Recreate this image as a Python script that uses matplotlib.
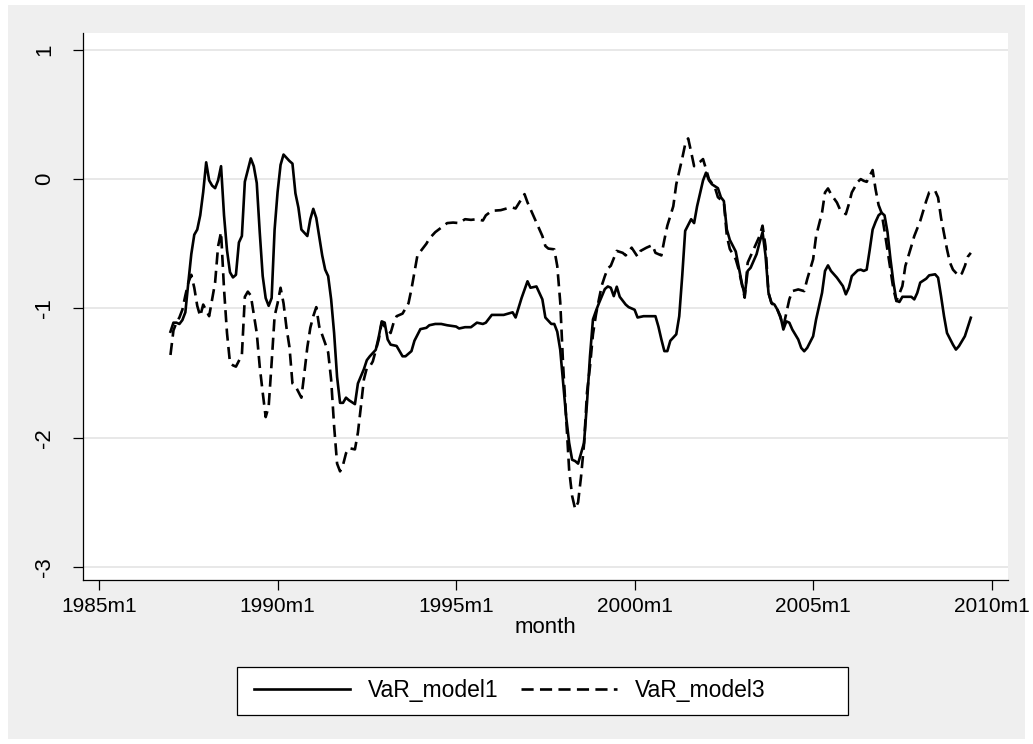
import matplotlib
matplotlib.use("Agg")
import matplotlib.pyplot as plt
from matplotlib.patches import Rectangle

# ---------------- data ----------------
dates_model1 = [
    "1987m1", "1987m2", "1987m3", "1987m4", "1987m5", "1987m6", "1987m7", "1987m8", "1987m9", "1987m10",
    "1987m11", "1987m12", "1988m1", "1988m2", "1988m3", "1988m4", "1988m5", "1988m6", "1988m7", "1988m8",
    "1988m9", "1988m10", "1988m11", "1988m12", "1989m1", "1989m2", "1989m4", "1989m5", "1989m6", "1989m7",
    "1989m8", "1989m9", "1989m10", "1989m11", "1989m12", "1990m1", "1990m2", "1990m3", "1990m5", "1990m6",
    "1990m7", "1990m8", "1990m9", "1990m11", "1990m12", "1991m1", "1991m2", "1991m4", "1991m5", "1991m6",
    "1991m7", "1991m8", "1991m9", "1991m10", "1991m11", "1991m12", "1992m1", "1992m3", "1992m4", "1992m6",
    "1992m7", "1992m8", "1992m10", "1992m11", "1992m12", "1993m1", "1993m2", "1993m3", "1993m5", "1993m6",
    "1993m7", "1993m8", "1993m10", "1993m11", "1994m1", "1994m3", "1994m4", "1994m6", "1994m8", "1994m10",
    "1995m1", "1995m2", "1995m4", "1995m6", "1995m8", "1995m10", "1995m11", "1996m1", "1996m3", "1996m5",
    "1996m8", "1996m9", "1996m11", "1997m1", "1997m2", "1997m4", "1997m6", "1997m7", "1997m9", "1997m10",
    "1997m11", "1997m12", "1998m1", "1998m2", "1998m3", "1998m4", "1998m5", "1998m6", "1998m8", "1998m9",
    "1998m10", "1998m11", "1998m12", "1999m1", "1999m3", "1999m4", "1999m5", "1999m6", "1999m7", "1999m8",
    "1999m10", "1999m11", "2000m1", "2000m2", "2000m4", "2000m6", "2000m8", "2000m9", "2000m10", "2000m11",
    "2000m12", "2001m1", "2001m3", "2001m4", "2001m5", "2001m6", "2001m8", "2001m9", "2001m10", "2001m12",
    "2002m1", "2002m2", "2002m3", "2002m5", "2002m6", "2002m7", "2002m8", "2002m9", "2002m11", "2002m12",
    "2003m1", "2003m2", "2003m3", "2003m4", "2003m5", "2003m6", "2003m7", "2003m8", "2003m9", "2003m10",
    "2003m11", "2003m12", "2004m1", "2004m2", "2004m3", "2004m4", "2004m5", "2004m6", "2004m8", "2004m9",
    "2004m10", "2004m11", "2005m1", "2005m2", "2005m4", "2005m5", "2005m6", "2005m7", "2005m9", "2005m11",
    "2005m12", "2006m1", "2006m2", "2006m4", "2006m5", "2006m6", "2006m7", "2006m8", "2006m9", "2006m10",
    "2006m11", "2006m12", "2007m1", "2007m2", "2007m3", "2007m4", "2007m5", "2007m6", "2007m7", "2007m9",
    "2007m10", "2007m11", "2007m12", "2008m1", "2008m3", "2008m4", "2008m6", "2008m7", "2008m8", "2008m9",
    "2008m10", "2008m12", "2009m1", "2009m2", "2009m3", "2009m4", "2009m6",
]
var_model1 = [
    -1.18, -1.11, -1.11, -1.12, -1.09, -1.03, -0.80, -0.58, -0.43, -0.39,
    -0.28, -0.10, 0.13, -0.01, -0.05, -0.07, -0.01, 0.10, -0.28, -0.55,
    -0.72, -0.76, -0.74, -0.49, -0.44, -0.02, 0.16, 0.10, -0.03, -0.41,
    -0.75, -0.92, -0.98, -0.92, -0.39, -0.10, 0.11, 0.19, 0.14, 0.12,
    -0.11, -0.22, -0.39, -0.44, -0.31, -0.23, -0.30, -0.59, -0.70, -0.75,
    -0.93, -1.19, -1.53, -1.73, -1.73, -1.69, -1.71, -1.74, -1.58, -1.47,
    -1.40, -1.37, -1.32, -1.22, -1.10, -1.11, -1.24, -1.28, -1.29, -1.33,
    -1.37, -1.37, -1.33, -1.25, -1.16, -1.15, -1.13, -1.12, -1.12, -1.13,
    -1.14, -1.155, -1.145, -1.145, -1.11, -1.12, -1.11, -1.05, -1.05, -1.05,
    -1.03, -1.07, -0.92, -0.79, -0.84, -0.83, -0.93, -1.07, -1.12, -1.12,
    -1.18, -1.32, -1.58, -1.84, -2.04, -2.17, -2.18, -2.20, -2.04, -1.73,
    -1.37, -1.085, -1.02, -0.96, -0.85, -0.83, -0.84, -0.905, -0.832, -0.91,
    -0.97, -0.99, -1.01, -1.07, -1.06, -1.06, -1.06, -1.14, -1.24, -1.33,
    -1.33, -1.25, -1.20, -1.06, -0.75, -0.40, -0.31, -0.34, -0.21, -0.01,
    0.05, -0.01, -0.04, -0.07, -0.14, -0.17, -0.39, -0.47, -0.56, -0.68,
    -0.80, -0.90, -0.71, -0.685, -0.633, -0.58, -0.49, -0.41, -0.59, -0.88,
    -0.956, -0.97, -1.01, -1.06, -1.163, -1.10, -1.11, -1.163, -1.24, -1.305,
    -1.331, -1.305, -1.215, -1.085, -0.879, -0.71, -0.667, -0.71, -0.762, -0.827,
    -0.891, -0.84, -0.75, -0.705, -0.70, -0.71, -0.70, -0.55, -0.39, -0.33,
    -0.28, -0.26, -0.28, -0.41, -0.62, -0.80, -0.94, -0.95, -0.91, -0.91,
    -0.91, -0.93, -0.88, -0.80, -0.77, -0.744, -0.736, -0.762, -0.905, -1.06,
    -1.19, -1.28, -1.318, -1.292, -1.253, -1.215, -1.072,
]

dates_model3 = [
    "1987m1", "1987m2", "1987m3", "1987m4", "1987m5", "1987m6", "1987m7", "1987m8", "1987m9", "1987m10",
    "1987m11", "1987m12", "1988m2", "1988m3", "1988m4", "1988m5", "1988m6", "1988m7", "1988m8", "1988m9",
    "1988m10", "1988m11", "1989m1", "1989m2", "1989m3", "1989m4", "1989m6", "1989m7", "1989m8", "1989m9",
    "1989m10", "1989m11", "1989m12", "1990m1", "1990m2", "1990m3", "1990m4", "1990m5", "1990m6", "1990m7",
    "1990m9", "1990m10", "1990m11", "1990m12", "1991m1", "1991m2", "1991m3", "1991m5", "1991m6", "1991m7",
    "1991m8", "1991m9", "1991m10", "1991m11", "1991m12", "1992m1", "1992m3", "1992m4", "1992m5", "1992m6",
    "1992m7", "1992m8", "1992m9", "1992m11", "1992m12", "1993m1", "1993m3", "1993m4", "1993m5", "1993m7",
    "1993m9", "1993m10", "1993m11", "1993m12", "1994m1", "1994m3", "1994m4", "1994m6", "1994m8", "1994m10",
    "1994m12", "1995m2", "1995m4", "1995m6", "1995m8", "1995m10", "1995m11", "1996m1", "1996m4", "1996m6",
    "1996m8", "1996m9", "1996m10", "1996m12", "1997m1", "1997m3", "1997m4", "1997m6", "1997m7", "1997m8",
    "1997m10", "1997m11", "1997m12", "1998m1", "1998m2", "1998m3", "1998m4", "1998m5", "1998m6", "1998m7",
    "1998m8", "1998m9", "1998m10", "1998m11", "1998m12", "1999m1", "1999m2", "1999m3", "1999m4", "1999m5",
    "1999m7", "1999m9", "1999m10", "1999m12", "2000m2", "2000m3", "2000m5", "2000m7", "2000m8", "2000m10",
    "2000m11", "2000m12", "2001m2", "2001m3", "2001m5", "2001m6", "2001m7", "2001m8", "2001m9", "2001m11",
    "2001m12", "2002m1", "2002m2", "2002m4", "2002m5", "2002m7", "2002m8", "2002m9", "2002m11", "2002m12",
    "2003m2", "2003m3", "2003m5", "2003m7", "2003m8", "2003m9", "2003m10", "2003m11", "2003m12", "2004m1",
    "2004m2", "2004m3", "2004m5", "2004m6", "2004m8", "2004m10", "2004m11", "2005m1", "2005m2", "2005m4",
    "2005m5", "2005m6", "2005m7", "2005m9", "2005m10", "2005m12", "2006m1", "2006m2", "2006m4", "2006m5",
    "2006m6", "2006m7", "2006m9", "2006m10", "2006m11", "2006m12", "2007m1", "2007m2", "2007m3", "2007m4",
    "2007m5", "2007m7", "2007m8", "2007m10", "2007m11", "2008m1", "2008m3", "2008m4", "2008m6", "2008m7",
    "2008m8", "2008m10", "2008m11", "2008m12", "2009m2", "2009m3", "2009m4", "2009m5", "2009m6",
]
var_model3 = [
    -1.36, -1.17, -1.11, -1.07, -1.01, -0.90, -0.80, -0.74, -0.84, -0.98,
    -1.06, -0.97, -1.06, -0.93, -0.80, -0.52, -0.41, -0.85, -1.19, -1.42,
    -1.44, -1.45, -1.36, -0.91, -0.87, -0.90, -1.19, -1.45, -1.65, -1.84,
    -1.76, -1.42, -1.06, -0.96, -0.84, -0.96, -1.15, -1.30, -1.58, -1.60,
    -1.69, -1.50, -1.30, -1.15, -1.06, -0.99, -1.14, -1.27, -1.34, -1.55,
    -1.91, -2.20, -2.26, -2.21, -2.12, -2.08, -2.09, -1.96, -1.76, -1.55,
    -1.46, -1.45, -1.41, -1.24, -1.11, -1.14, -1.19, -1.11, -1.06, -1.04,
    -0.96, -0.85, -0.72, -0.59, -0.56, -0.50, -0.46, -0.41, -0.375, -0.34,
    -0.336, -0.34, -0.31, -0.315, -0.31, -0.32, -0.28, -0.245, -0.24, -0.227,
    -0.22, -0.227, -0.19, -0.116, -0.18, -0.284, -0.336, -0.44, -0.517, -0.537,
    -0.543, -0.672, -0.95, -1.45, -1.85, -2.25, -2.45, -2.55, -2.50, -2.30,
    -2.05, -1.65, -1.45, -1.20, -1.05, -0.93, -0.82, -0.75, -0.69, -0.67,
    -0.555, -0.57, -0.59, -0.53, -0.60, -0.555, -0.53, -0.51, -0.57, -0.59,
    -0.47, -0.36, -0.21, -0.04, 0.16, 0.27, 0.315, 0.21, 0.10, 0.134,
    0.155, 0.078, 0.00, -0.065, -0.14, -0.18, -0.44, -0.54, -0.62, -0.70,
    -0.917, -0.646, -0.543, -0.44, -0.36, -0.52, -0.88, -0.96, -0.98, -1.01,
    -1.07, -1.14, -0.93, -0.866, -0.853, -0.866, -0.775, -0.62, -0.44, -0.258,
    -0.103, -0.072, -0.116, -0.181, -0.233, -0.271, -0.194, -0.103, -0.021, 0.0,
    -0.013, -0.021, 0.07, -0.08, -0.20, -0.26, -0.40, -0.55, -0.70, -0.853,
    -0.943, -0.827, -0.672, -0.52, -0.44, -0.323, -0.17, -0.103, -0.09, -0.142,
    -0.30, -0.543, -0.646, -0.70, -0.75, -0.729, -0.672, -0.60, -0.57,
]

xtick_labels = ["1985m1", "1990m1", "1995m1", "2000m1", "2005m1", "2010m1"]
yticks = [-3, -2, -1, 0, 1]
series_names = ["VaR_model1", "VaR_model3"]


def month_index(label):
    """Stata-style monthly label -> months since 1985m1."""
    y, m = label.split("m")
    return (int(y) - 1985) * 12 + int(m) - 1


# ---------------- figure ----------------
W, H = 1033, 744
fig = plt.figure(figsize=(W / 100, H / 100), dpi=100)
fig.patch.set_facecolor("white")
plt.rcParams["font.family"] = ["Liberation Sans", "DejaVu Sans"]
FS = 15.0

# grey graph region
fig.patches.append(Rectangle((8 / W, 5 / H), (W - 16) / W, (H - 10) / H,
                             transform=fig.transFigure, facecolor="#efefef",
                             edgecolor="none", zorder=-10))

left, right, top, bottom = 83, 1008, 33, 580
ax = fig.add_axes([left / W, 1 - bottom / H, (right - left) / W, (bottom - top) / H])
ax.set_facecolor("white")

x1 = [month_index(d) for d in dates_model1]
x3 = [month_index(d) for d in dates_model3]

lw = 1.9
dash = (0, (4.6, 2.4))
ax.plot(x1, var_model1, color="black", lw=lw, label=series_names[0],
        solid_joinstyle="round", zorder=3)
ax.plot(x3, var_model3, color="black", lw=lw, linestyle=dash,
        label=series_names[1], dash_capstyle="butt", zorder=3)

# axes limits
ax.set_xlim(-5.4, 305.5)
ax.set_ylim(-3.1, 1.13)

xt = [month_index(l) for l in xtick_labels]
ax.set_xticks(xt)
ax.set_xticklabels(xtick_labels, fontsize=FS)
ax.set_yticks(yticks)
ax.set_yticklabels([str(v) for v in yticks], fontsize=16, rotation=90, va="center")

ax.yaxis.grid(True, color="#e6e6e6", lw=1.3)
ax.set_axisbelow(True)
for s in ["top", "right"]:
    ax.spines[s].set_visible(False)
for s in ["left", "bottom"]:
    ax.spines[s].set_linewidth(0.9)
    ax.spines[s].set_color("black")
ax.tick_params(axis="both", direction="out", length=7, width=0.9, color="black")
ax.tick_params(axis="y", pad=13)
ax.tick_params(axis="x", pad=5)

ax.set_xlabel("month", fontsize=16, labelpad=1)

# legend box (Stata-style wide frame) + legend entries
lx0, lx1, ly0, ly1 = 237, 848, 667, 715
fig.patches.append(Rectangle((lx0 / W, 1 - ly1 / H), (lx1 - lx0) / W, (ly1 - ly0) / H,
                             transform=fig.transFigure, facecolor="white",
                             edgecolor="black", lw=0.9, zorder=1))
LFS = 16.5
lpx = LFS * 100 / 72
leg = fig.legend(loc="center left", bbox_to_anchor=(254 / W, 1 - 691 / H),
                 ncol=2, fontsize=LFS, frameon=False,
                 handlelength=96 / lpx, handletextpad=18 / lpx,
                 columnspacing=22 / lpx, borderpad=0.0, borderaxespad=0.0)
leg.set_zorder(5)

fig.savefig("out.png", dpi=100, facecolor=fig.get_facecolor())
